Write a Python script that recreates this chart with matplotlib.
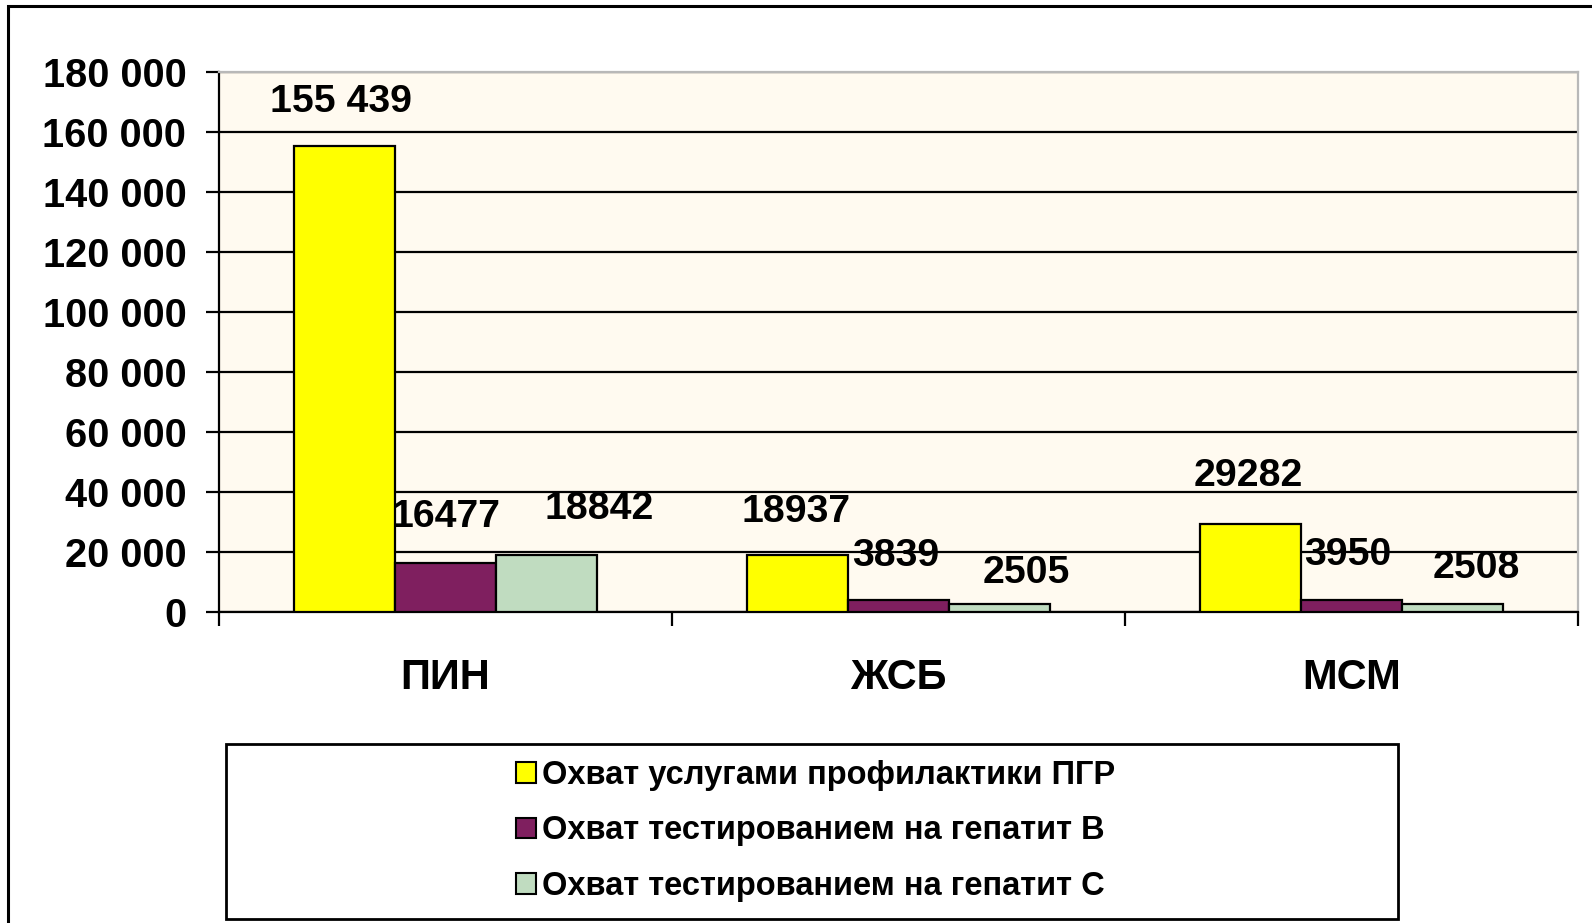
import matplotlib
matplotlib.use("Agg")
import matplotlib.pyplot as plt
import numpy as np
from matplotlib.patches import Rectangle, Patch
from matplotlib.ticker import FuncFormatter, MultipleLocator

plt.rcParams['font.family'] = ['Liberation Sans', 'DejaVu Sans']
plt.rcParams['font.weight'] = 'bold'

# data
categories = ['ПИН', 'ЖСБ', 'МСМ']
series_names = ['Охват услугами профилактики ПГР',
                'Охват тестированием на гепатит В',
                'Охват тестированием на гепатит С']
prevention = [155439, 18937, 29282]
hep_b = [16477, 3839, 3950]
hep_c = [18842, 2505, 2508]
series = [prevention, hep_b, hep_c]
colors = ['#FFFF00', '#7F1F5F', '#C0DCC0']

# label nudges (pixels), per series then per category, as placed in the original
label_dx = [[-3, -1, -2], [1, -3, -4], [53, 27, 24]]
label_dy = [[44, 43, 48], [46, 44, 45], [46, 31, 36]]

W, H = 1592, 923
fig = plt.figure(figsize=(W / 100, H / 100), dpi=100)
fig.patch.set_facecolor('white')

# outer chart frame (runs off the right and bottom edges)
fig.patches.append(Rectangle((8 / W, -0.05), 1.2, 1 - 6 / H + 0.05,
                             transform=fig.transFigure, fill=False,
                             edgecolor='black', linewidth=2.2))

ax = fig.add_axes([219 / W, 1 - 612 / H, (1578 - 219) / W, 540 / H])
ax.set_facecolor('#FFFAF0')

x = np.arange(len(categories))
bw = 0.223
for i, vals in enumerate(series):
    pos = x + (i - 1) * bw
    ax.bar(pos, vals, width=bw, color=colors[i], edgecolor='black',
           linewidth=1.6, zorder=3)
    for j, v in enumerate(vals):
        txt = f"{v:,}".replace(",", " ") if v >= 100000 else str(v)
        ax.annotate(txt, (pos[j], v), xytext=(label_dx[i][j], label_dy[i][j]),
                    textcoords='offset pixels', ha='center', va='center',
                    fontsize=28.3, fontweight='bold', zorder=5)

ax.set_ylim(0, 180000)
ax.set_xlim(-0.5, 2.5)
ax.yaxis.set_major_locator(MultipleLocator(20000))
ax.yaxis.set_major_formatter(FuncFormatter(lambda v, p: f"{int(v):,}".replace(",", " ")))
ax.grid(axis='y', color='black', linewidth=1.6, zorder=1)
ax.set_axisbelow(True)

ax.set_xticks(x)
ax.set_xticklabels(categories, fontsize=30, fontweight='bold')
ax.set_xticks([-0.5, 0.5, 1.5, 2.5], minor=True)
ax.tick_params(axis='x', which='major', length=0, pad=33)
ax.tick_params(axis='x', which='minor', length=10, width=1.6, direction='out')
ax.tick_params(axis='y', which='major', length=9.5, width=1.6, direction='out',
               labelsize=28.6, pad=14)

for s in ['left', 'bottom']:
    ax.spines[s].set_color('black')
    ax.spines[s].set_linewidth(1.6)
for s in ['top', 'right']:
    ax.spines[s].set_color('#B8B8B8')
    ax.spines[s].set_linewidth(1.6)

# legend box
fig.patches.append(Rectangle((226 / W, 1 - 919 / H), (1398 - 226) / W, 175 / H,
                             transform=fig.transFigure, fill=False,
                             edgecolor='black', linewidth=2))
handles = [Patch(facecolor=c, edgecolor='black', linewidth=1.5) for c in colors]
fig.legend(handles, series_names, loc='center',
           bbox_to_anchor=(816 / W, 1 - 831 / H), frameon=False,
           prop={'size': 23.5, 'weight': 'bold'}, handlelength=0.6,
           handleheight=0.6, handletextpad=0.2, labelspacing=0.75)

fig.savefig('out.png', dpi=100, facecolor='white')
